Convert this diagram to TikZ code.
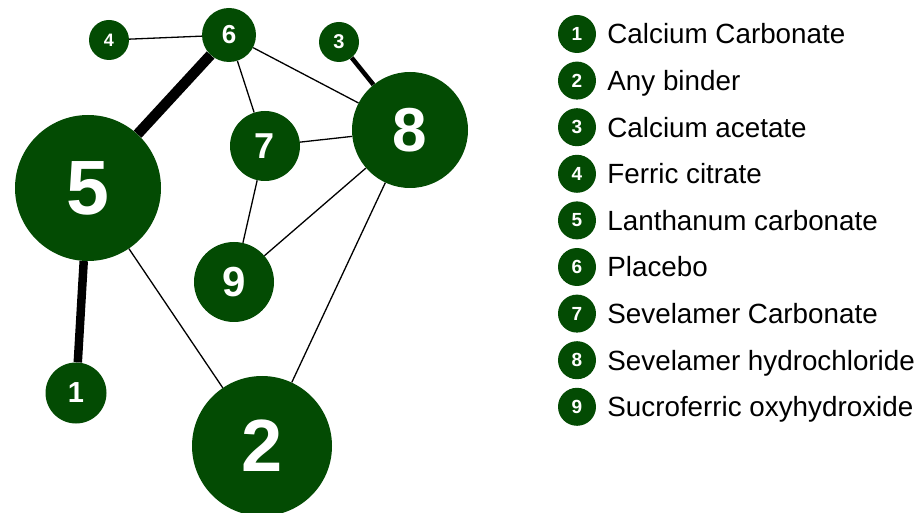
\documentclass[tikz,border=0pt]{standalone}
\usepackage{fontspec}
\setmainfont{Liberation Sans}
\usetikzlibrary{positioning}
\definecolor{drgreen}{RGB}{3,75,3}

\begin{document}
\begin{tikzpicture}[
		x=1pt, y=-1pt,
		drug/.style n args={2}{
			circle, fill=drgreen, text=white, inner sep=0pt,
			minimum size=#1, font=\fontsize{#2}{#2}\selectfont\bfseries,
		},
		key/.style={drug={38}{19}},
		legend/.style={
			inner sep=0pt, text height=19.7pt, text depth=0pt,
			font=\fontsize{27.8}{30}\selectfont,
		},
		link/.style={line width=1.3pt},
		]
		
		\useasboundingbox (0,0) rectangle (922,513);
		
		% network
		\node[drug={146}{77}] (lanthanum)  at (88, 188)  {5};
		\node[drug={116}{62}] (sevhcl)     at (410,130)  {8};
		\node[drug={140}{74}] (binder)     at (262,446)  {2};
		\node[drug={70}{36}]  (sevcarb)    at (265,146)  {7};
		\node[drug={80}{42}]  (sucro)      at (234,282)  {9};
		\node[drug={54}{26}]  (placebo)    at (229, 35)  {6};
		\node[drug={40}{18}]  (ferric)     at (109, 40)  {4};
		\node[drug={40}{20}]  (acetate)    at (339, 42)  {3};
		\node[drug={61}{29}]  (carbonate)  at (76, 393)  {1};
		
		\draw[link] (ferric)    -- (placebo);
		\draw[link] (placebo)   -- (sevcarb);
		\draw[link] (placebo)   -- (sevhcl);
		\draw[link] (sevcarb)   -- (sevhcl);
		\draw[link] (sevcarb)   -- (sucro);
		\draw[link] (sucro)     -- (sevhcl);
		\draw[link] (sevhcl)    -- (binder);
		\draw[link] (lanthanum) -- (binder);
		\draw[line width=10.5pt] (placebo)   -- (lanthanum);
		\draw[line width=8.5pt]  (lanthanum) -- (carbonate);
		\draw[line width=4.5pt]  (acetate)   -- (sevhcl);
		
		% legend
		\node[key] (k1) at (577, 34.0)  {1};
		\node[key] (k2) at (577, 80.6)  {2};
		\node[key] (k3) at (577,127.2)  {3};
		\node[key] (k4) at (577,173.8)  {4};
		\node[key] (k5) at (577,220.4)  {5};
		\node[key] (k6) at (577,267.0)  {6};
		\node[key] (k7) at (577,313.6)  {7};
		\node[key] (k8) at (577,360.2)  {8};
		\node[key] (k9) at (577,406.8)  {9};
		
		\node[legend, right=11pt of k1] (t1) {Calcium Carbonate};
		\node[legend, right=11pt of k2] (t2) {Any binder};
		\node[legend, right=11pt of k3] (t3) {Calcium acetate};
		\node[legend, right=11pt of k4] (t4) {Ferric citrate};
		\node[legend, right=11pt of k5] (t5) {Lanthanum carbonate};
		\node[legend, right=11pt of k6] (t6) {Placebo};
		\node[legend, right=11pt of k7] (t7) {Sevelamer Carbonate};
		\node[legend, right=11pt of k8] (t8) {Sevelamer hydrochloride};
		\node[legend, right=11pt of k9] (t9) {Sucroferric oxyhydroxide};
		
	\end{tikzpicture}
\end{document}
